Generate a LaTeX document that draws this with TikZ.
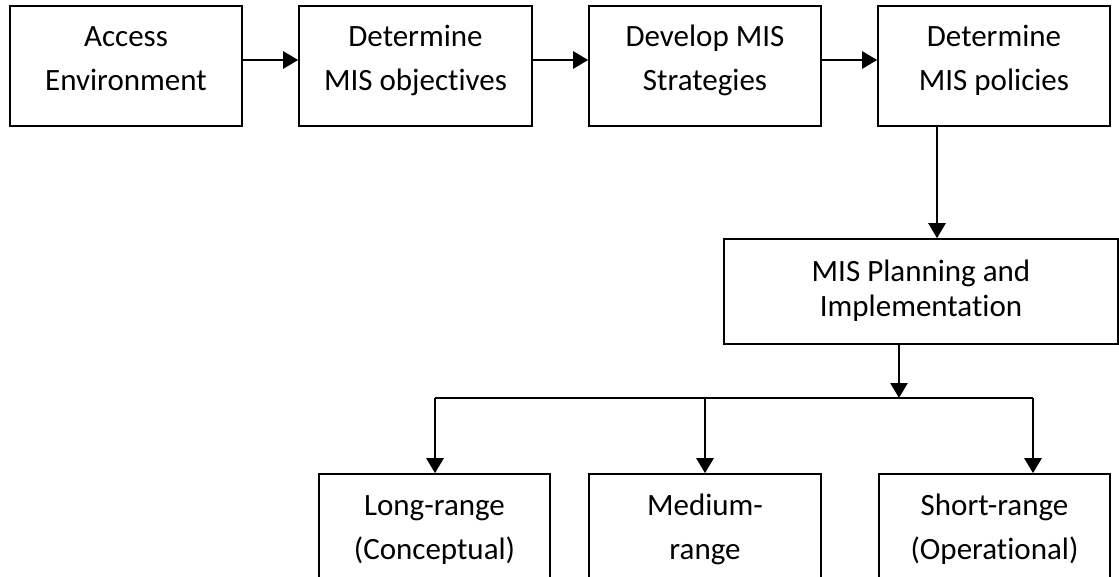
\documentclass[tikz,border=0pt]{standalone}
\usepackage{fontspec}
\setmainfont{Carlito}[Ligatures={NoCommon}]
\usetikzlibrary{arrows.meta}
\begin{document}
\begin{tikzpicture}[x=1pt,y=-1pt,
  box/.style={draw, line width=1.6pt, minimum width=232pt, minimum height=120pt,
    inner sep=0pt, align=center, font=\fontsize{31}{44}\selectfont,
    text height=50pt, text depth=0pt},
  arr/.style={line width=2.6pt, -{Triangle[length=15pt,width=17pt]}},
  branch/.style={line width=1.8pt}]
\useasboundingbox (0,0) rectangle (1119,577);
\clip (0,0) rectangle (1119,577);
\node[box] (b1) at (126,66) {Access\\Environment};
\node[box, minimum width=233pt] (b2) at (415.5,66) {Determine\\MIS objectives};
\node[box] (b3) at (705,66) {Develop MIS\\Strategies};
\node[box] (b4) at (994,66) {Determine\\MIS policies};
\node[box, minimum width=394pt, minimum height=105pt, font=\fontsize{31}{35}\selectfont] (b5) at (921,291.5) {MIS Planning and\\Implementation};
\node[box, minimum width=231pt] (b6) at (434.5,534) {Long-range\\(Conceptual)};
\node[box] (b7) at (705,534) {Medium-\\range};
\node[box, minimum width=231pt] (b8) at (994.5,534) {Short-range\\(Operational)};
\draw[arr] ([yshift=6pt]b1.east) -- ([yshift=6pt]b2.west);
\draw[arr] ([yshift=6pt]b2.east) -- ([yshift=6pt]b3.west);
\draw[arr] ([yshift=6pt]b3.east) -- ([yshift=6pt]b4.west);
\coordinate (d4) at (937,0);
\draw[arr] (b4.south -| d4) -- (b5.north -| d4);
\coordinate (j) at (899,398);
\coordinate (jl) at (435,398);
\coordinate (jr) at (1033,398);
\draw[arr] (b5.south -| j) -- (j);
\draw[branch] (jl) -- (jr);
\draw[arr] (jl) -- (jl |- b6.north);
\draw[arr] (b7.north |- jl) -- (b7.north);
\draw[arr] (jr) -- (jr |- b8.north);
\end{tikzpicture}
\end{document}
